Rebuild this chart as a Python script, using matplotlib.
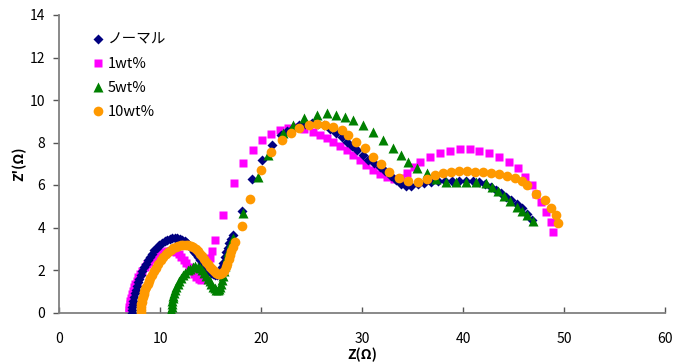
import matplotlib
matplotlib.use('Agg')
import matplotlib.pyplot as plt

plt.rcParams['font.family'] = ['Noto Sans CJK JP', 'DejaVu Sans']

labels = ['ノーマル', '1wt%', '5wt%', '10wt%']

# ノーマル
normal_x = [7.2, 7.22, 7.25, 7.3, 7.35, 7.42, 7.5, 7.6, 7.7, 7.82,
            7.95, 8.1, 8.25, 8.42, 8.6, 8.8, 9.0, 9.2, 9.45, 9.7,
            9.95, 10.2, 10.45, 10.7, 10.95, 11.2, 11.45, 11.7, 11.95, 12.2,
            12.45, 12.7, 12.95, 13.2, 13.4, 13.6, 13.8, 14.0, 14.2, 14.4,
            14.6, 14.8, 15.0, 15.2, 15.4, 15.6, 15.8, 15.95, 16.1, 16.25,
            16.4, 16.55, 16.7, 16.85, 17.0, 17.2,
            18.1, 19.1, 20.1, 21.1, 22.0, 22.6, 23.2, 23.8, 24.4, 25.0,
            25.6, 26.2, 26.8, 27.4, 28.0, 28.5, 29.0, 29.5, 30.1, 30.6,
            31.2, 31.8, 32.3, 32.9, 33.4, 33.9, 34.4, 34.9, 35.5, 36.1,
            36.8, 37.5, 38.2, 38.9, 39.6, 40.3, 41.0, 41.6, 42.2, 42.8,
            43.3, 43.8, 44.3, 44.8, 45.3, 45.8, 46.3, 46.8]
normal_y = [0.0, 0.12, 0.25, 0.4, 0.55, 0.72, 0.9, 1.08, 1.25, 1.42,
            1.6, 1.78, 1.95, 2.12, 2.3, 2.47, 2.62, 2.76, 2.92, 3.05,
            3.17, 3.27, 3.35, 3.42, 3.47, 3.5, 3.51, 3.5, 3.47, 3.42,
            3.35, 3.25, 3.13, 2.99, 2.87, 2.74, 2.6, 2.46, 2.32, 2.2,
            2.08, 1.97, 1.88, 1.82, 1.78, 1.77, 1.82, 1.95, 2.12, 2.35,
            2.6, 2.85, 3.05, 3.25, 3.45, 3.66,
            4.8, 6.3, 7.2, 7.9, 8.35, 8.55, 8.7, 8.8, 8.87, 8.9,
            8.88, 8.8, 8.65, 8.45, 8.24, 8.04, 7.85, 7.65, 7.4, 7.2,
            7.02, 6.86, 6.65, 6.44, 6.24, 6.05, 5.95, 5.97, 6.05, 6.1,
            6.15, 6.2, 6.2, 6.2, 6.2, 6.2, 6.18, 6.12, 6.03, 5.92,
            5.78, 5.62, 5.45, 5.28, 5.1, 4.9, 4.65, 4.35]

# 1wt%
wt1_x = [6.9, 6.92, 6.95, 7.0, 7.05, 7.12, 7.2, 7.3, 7.42, 7.55,
         7.7, 7.87, 8.05, 8.25, 8.47, 8.7, 8.95, 9.2, 9.47, 9.75,
         10.05, 10.35, 10.65, 10.95, 11.25, 11.55, 11.85, 12.1, 12.35, 12.6,
         12.85, 13.1, 13.35, 13.6, 13.85, 14.1, 14.3, 14.5, 14.65, 14.8,
         14.95, 15.1,
         15.4, 16.2, 17.3, 18.2, 19.2, 20.1, 21.0, 21.9,
         22.7, 23.5, 24.3, 25.1, 25.8, 26.5, 27.1, 27.8, 28.5, 29.1, 29.8, 30.4, 31.1,
         31.8, 32.5, 33.2, 33.9, 34.5, 35.1, 35.7, 36.7, 37.7, 38.7, 39.7, 40.7, 41.6,
         42.6, 43.6, 44.6, 45.4, 46.1, 46.8, 47.2, 47.7, 48.2, 48.7, 48.9]
wt1_y = [0.0, 0.12, 0.25, 0.4, 0.55, 0.7, 0.86, 1.02, 1.18, 1.34,
         1.5, 1.66, 1.82, 1.97, 2.12, 2.26, 2.4, 2.52, 2.63, 2.72,
         2.8, 2.86, 2.9, 2.91, 2.89, 2.84, 2.75, 2.63, 2.48, 2.32,
         2.15, 1.98, 1.82, 1.68, 1.57, 1.52, 1.6, 1.78, 2.02, 2.28,
         2.56, 2.88,
         3.43, 4.6, 6.1, 7.05, 7.65, 8.1, 8.4, 8.6,
         8.7, 8.75, 8.65, 8.5, 8.35, 8.2, 8.04, 7.85, 7.65, 7.42, 7.18, 6.95, 6.7,
         6.5, 6.38, 6.3, 6.35, 6.55, 6.85, 7.08, 7.33, 7.49, 7.62, 7.69, 7.69, 7.62,
         7.49, 7.33, 7.1, 6.78, 6.39, 6.0, 5.6, 5.2, 4.74, 4.27, 3.8]

# 5wt%
wt5_x = [11.1, 11.12, 11.15, 11.18, 11.22, 11.27, 11.33, 11.4, 11.5, 11.62,
         11.76, 11.92, 12.1, 12.3, 12.52, 12.76, 13.0, 13.25, 13.5, 13.75,
         13.98, 14.2, 14.4, 14.58, 14.75, 14.92, 15.08, 15.24, 15.4, 15.56,
         15.7, 15.84, 15.96, 16.07, 16.17, 16.27, 16.37, 16.47, 16.57, 16.67,
         16.77, 16.9, 17.05, 17.2,
         18.2, 19.7, 20.7, 22.2, 23.2, 24.3, 25.5, 26.5, 27.4, 28.3, 29.1,
         30.1, 31.1, 32.1, 33.1, 33.9, 34.6, 35.4, 36.4, 37.3, 38.3, 39.3, 40.3, 41.3,
         42.3, 42.9, 43.5, 44.1, 44.7, 45.3, 45.8, 46.3, 46.9]
wt5_y = [0.0, 0.12, 0.25, 0.38, 0.52, 0.66, 0.8, 0.94, 1.08, 1.22,
         1.36, 1.5, 1.63, 1.76, 1.88, 1.98, 2.07, 2.13, 2.17, 2.16,
         2.1, 2.0, 1.88, 1.74, 1.6, 1.46, 1.34, 1.22, 1.13, 1.08,
         1.07, 1.1, 1.2, 1.35, 1.53, 1.73, 1.95, 2.18, 2.4, 2.62,
         2.84, 3.05, 3.28, 3.5,
         4.7, 6.4, 7.4, 8.45, 8.8, 9.14, 9.3, 9.37, 9.3, 9.2, 9.06,
         8.82, 8.5, 8.12, 7.73, 7.4, 7.1, 6.8, 6.56, 6.3, 6.16, 6.15, 6.15, 6.14,
         6.1, 5.9, 5.7, 5.5, 5.25, 4.98, 4.8, 4.6, 4.3]

# 10wt%
wt10_x = [8.1, 8.11, 8.13, 8.16, 8.2, 8.25, 8.31, 8.38, 8.46, 8.55,
          8.65, 8.77, 8.9, 9.05, 9.22, 9.4, 9.6, 9.82, 10.05, 10.3,
          10.55, 10.8, 11.05, 11.3, 11.55, 11.8, 12.05, 12.3, 12.55, 12.8,
          13.05, 13.3, 13.52, 13.74, 13.95, 14.15, 14.35, 14.55, 14.75, 14.95,
          15.15, 15.35, 15.55, 15.75, 15.95, 16.15, 16.35, 16.52, 16.67, 16.8,
          16.92, 17.05, 17.2, 17.4,
          18.1, 18.9, 20.0, 21.0, 22.1, 23.0, 23.8, 24.8, 25.5, 26.3, 27.1, 28.0, 28.6,
          29.4, 30.3, 31.1, 31.9, 32.7, 33.7, 34.6, 35.5, 36.4, 37.2, 38.0, 38.8, 39.6,
          40.4, 41.2, 42.0, 42.8, 43.6, 44.4, 45.1, 45.8, 46.3, 47.2, 48.1, 48.7, 49.2,
          49.4]
wt10_y = [0.0, 0.12, 0.25, 0.38, 0.5, 0.62, 0.74, 0.86, 0.98, 1.1,
          1.22, 1.35, 1.48, 1.62, 1.78, 1.94, 2.1, 2.28, 2.45, 2.6,
          2.74, 2.86, 2.96, 3.04, 3.1, 3.15, 3.18, 3.19, 3.19, 3.16,
          3.12, 3.06, 2.98, 2.88, 2.77, 2.65, 2.52, 2.39, 2.26, 2.14,
          2.03, 1.94, 1.87, 1.83, 1.82, 1.86, 1.96, 2.12, 2.3, 2.5,
          2.7, 2.9, 3.1, 3.3,
          4.05, 5.35, 6.7, 7.55, 8.1, 8.43, 8.67, 8.82, 8.87, 8.82, 8.75, 8.6, 8.35,
          8.04, 7.73, 7.33, 7.0, 6.63, 6.31, 6.18, 6.16, 6.3, 6.45, 6.55, 6.62, 6.65,
          6.65, 6.63, 6.6, 6.57, 6.5, 6.42, 6.35, 6.2, 6.0, 5.6, 5.3, 4.9, 4.58,
          4.2]

fig = plt.figure(figsize=(6.87, 3.62), dpi=100)
ax = fig.add_axes([59 / 687, 49.5 / 362, 606 / 687, 297.5 / 362])

ax.plot(normal_x, normal_y, 'D', color='#000080', ms=4.8, mec='none', zorder=3, label=labels[0])
ax.plot(wt1_x, wt1_y, 's', color='#FF00FF', ms=6.3, mec='none', zorder=2, label=labels[1])
ax.plot(wt5_x, wt5_y, '^', color='#008000', ms=7.0, mec='none', zorder=4, label=labels[2])
ax.plot(wt10_x, wt10_y, 'o', color='#FF9900', ms=7.0, mec='none', zorder=5, label=labels[3])

ax.set_xlim(0, 60)
ax.set_ylim(0, 14)
ax.set_xticks(range(0, 61, 10))
ax.set_yticks(range(0, 15, 2))

for s in ['top', 'right']:
    ax.spines[s].set_visible(False)
for s in ['left', 'bottom']:
    ax.spines[s].set_color('#808080')
    ax.spines[s].set_linewidth(1.3)

ax.tick_params(axis='x', direction='in', length=4, width=1, color='#555555',
               labelsize=10, pad=14)
ax.tick_params(axis='y', direction='out', length=4, width=1, color='#555555',
               labelsize=10, pad=6)

ax.set_xlabel('Z(Ω)', fontsize=10, fontweight='bold', labelpad=1)
ax.set_ylabel("Z'(Ω)", fontsize=10, fontweight='bold', labelpad=2)

ax.legend(loc='upper left', bbox_to_anchor=(0.035, 0.97), frameon=False, fontsize=10.5,
          handletextpad=0.1, labelspacing=0.7, handlelength=1.2, borderaxespad=0.2)

fig.savefig('out.png', dpi=100)
